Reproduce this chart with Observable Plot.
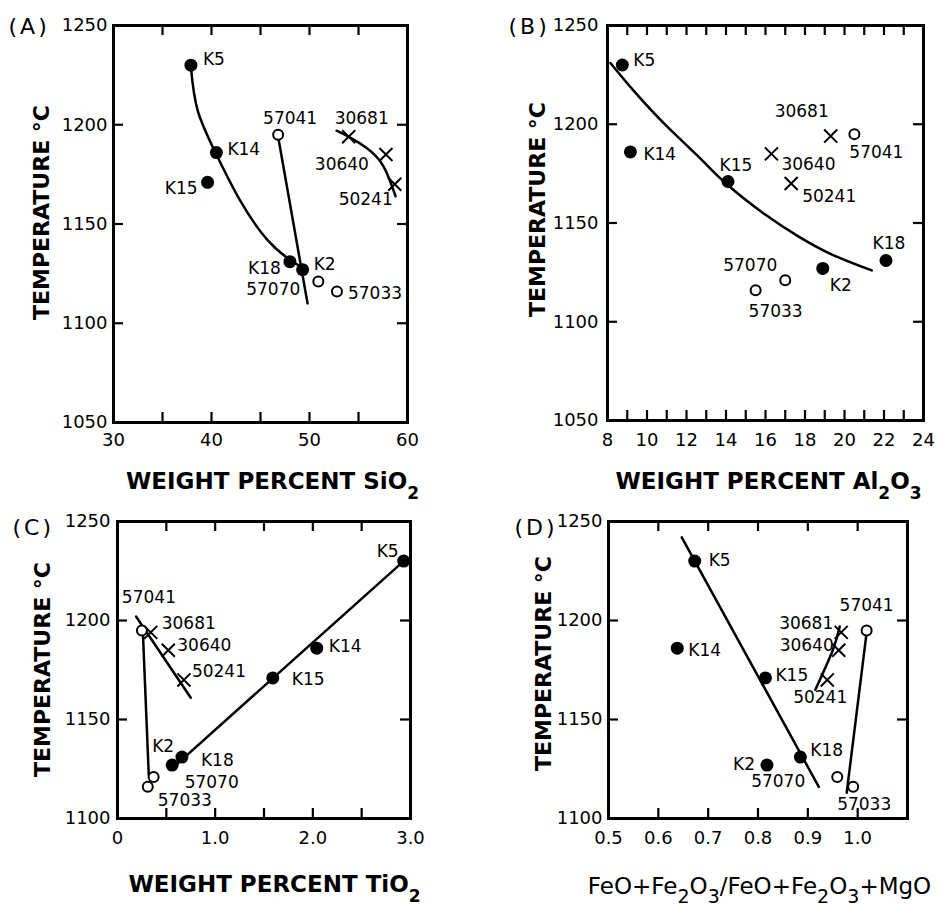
<!DOCTYPE html>
<html><head><meta charset="utf-8">
<script src="https://cdn.jsdelivr.net/npm/d3@7"></script>
<script src="https://cdn.jsdelivr.net/npm/@observablehq/plot@0.6"></script>
<style>
body{margin:0;background:#fff;}
#root{position:relative;width:941px;height:905px;overflow:hidden;background:#fff;}
#root > svg{position:absolute;}
</style></head><body><div id="root"></div>
<script>
// ---- data ----
const samples = ["K5","K14","K15","K18","K2","57041","57070","57033","30681","30640","50241"];
const kinds = ["filled","filled","filled","filled","filled","open","open","open","cross","cross","cross"];
const temperature = [1230, 1186, 1171, 1131, 1127, 1195, 1121, 1116, 1194, 1185, 1170];
const sio2  = [37.9, 40.5, 39.6, 48.0, 49.3, 46.8, 50.9, 52.8, 54.0, 57.8, 58.7];
const al2o3 = [8.75, 9.16, 14.1, 22.1, 18.9, 20.5, 17.0, 15.5, 19.3, 16.3, 17.3];
const tio2  = [2.93, 2.04, 1.59, 0.66, 0.56, 0.25, 0.37, 0.31, 0.34, 0.52, 0.68];
const feRatio = [0.673, 0.638, 0.815, 0.885, 0.818, 1.018, 0.959, 0.991, 0.967, 0.962, 0.939];

// trend lines
const curveA1x = [37.9, 38.6, 40.5, 42.9, 45.7, 48.0, 49.3];
const curveA1y = [1229, 1207, 1185, 1162, 1142, 1132, 1128];
const curveA2x = [46.8, 49.8];
const curveA2y = [1194, 1110];
const curveA3x = [52.76, 53.98, 55.9, 57.55, 58.78];
const curveA3y = [1197, 1194, 1188, 1179, 1164];
const curveBx = [8.15, 9.32, 11.0, 12.67, 14.0, 16.02, 17.7, 19.37, 21.38];
const curveBy = [1231, 1217, 1199, 1183, 1170, 1154, 1143, 1134, 1126];
const lineC1x = [0.62, 2.93];
const lineC1y = [1128, 1230];
const lineC2x = [0.26, 0.32];
const lineC2y = [1194, 1122];
const lineC3x = [0.19, 0.75];
const lineC3y = [1202, 1161];
const lineD1x = [0.647, 0.922];
const lineD1y = [1242, 1116];
const lineD2x = [1.018, 0.978];
const lineD2y = [1194, 1113];
const lineD3x = [0.915, 0.95, 0.964];
const lineD3y = [1165, 1185, 1197];

// ticks
const yLabelsAB = [1050, 1100, 1150, 1200, 1250];
const yTicksAB = [1100, 1150, 1200];
const yLabelsCD = [1100, 1150, 1200, 1250];
const yTicksCD = [1150, 1200];
const xLabelsA = [30, 40, 50, 60];
const xTicksA = [35, 40, 45, 50, 55];
const xLabelsB = [8, 10, 12, 14, 16, 18, 20, 22, 24];
const xTicksB = [9, 10, 11, 12, 13, 14, 15, 16, 17, 18, 19, 20, 21, 22, 23];
const xLabelsC = [0, 1, 2, 3];
const xTicksC = [0.5, 1, 1.5, 2, 2.5];
const xLabelsD = [0.5, 0.6, 0.7, 0.8, 0.9, 1.0];
const xTicksD = [0.6, 0.7, 0.8, 0.9, 1.0];

// label placement (style): [dx, dy, anchor] per sample
const placeA = [[12,-6,"start"],[11,-3,"start"],[-10,6,"end"],[-9,7,"end"],[11,-5,"start"],[12,-16,"middle"],[-18,8,"end"],[11,2,"start"],[13,-18,"middle"],[-17,10,"end"],[-2,15,"end"]];
const placeB = [[11,-4,"start"],[13,3,"start"],[8,-16,"middle"],[3,-17,"middle"],[7,17,"start"],[22,18,"middle"],[-35,-15,"middle"],[20,21,"middle"],[-29,-25,"middle"],[10,11,"start"],[11,13,"start"]];
const placeC = [[-5,-10,"end"],[12,-2,"start"],[19,2,"start"],[19,3,"start"],[-9,-18,"middle"],[7,-33,"middle"],[31,6,"start"],[10,14,"start"],[11,-9,"start"],[9,-5,"start"],[8,-8,"start"]];
const placeD = [[14,-1,"start"],[11,2,"start"],[10,-2,"start"],[10,-7,"start"],[-12,0,"end"],[0,-25,"middle"],[-32,5,"end"],[11,18,"middle"],[-8,-9,"end"],[-5,-5,"end"],[20,18,"end"]];

const FONT = "DejaVu Sans";
const SVGNS = "http://www.w3.org/2000/svg";
const TICK_PX = 10;

function zip(xs, ys) { return xs.map((x, i) => ({x, y: ys[i]})); }

function subscriptify(svg, subSize, drop) {
  svg.querySelectorAll("text").forEach(t => {
    const s = t.textContent;
    if (/^\([A-D]\)$/.test(s)) { t.setAttribute("letter-spacing", "3"); return; }
    if (!/[₂₃]/.test(s)) return;
    while (t.firstChild) t.removeChild(t.firstChild);
    let down = false;
    for (const p of s.split(/([₂₃])/)) {
      if (!p) continue;
      const ts = document.createElementNS(SVGNS, "tspan");
      if (p === "₂" || p === "₃") {
        ts.textContent = p === "₂" ? "2" : "3";
        ts.setAttribute("font-size", subSize);
        if (!down) ts.setAttribute("dy", drop);
        down = true;
      } else {
        ts.textContent = p;
        if (down) ts.setAttribute("dy", -drop);
        down = false;
      }
      t.appendChild(ts);
    }
  });
}

function panel(cfg) {
  const rows = samples.map((s, i) => ({name: s, kind: kinds[i], x: cfg.xValues[i], y: temperature[i]}));
  const mL = cfg.mL, mT = cfg.mT;
  const [x0, x1] = cfg.xDomain, [y0, y1] = cfg.yDomain;
  // tick length of 10 px, expressed in data units of each scale
  const kx = TICK_PX * (x1 - x0) / (cfg.width - mL - cfg.mR);
  const ky = TICK_PX * (y1 - y0) / (cfg.height - mT - cfg.mB);
  const marks = [];
  marks.push(Plot.axisX(cfg.xLabels, {anchor: "bottom", tickSize: 0, tickPadding: cfg.xPad, tickFormat: cfg.xFormat, fontSize: 18, label: null}));
  marks.push(Plot.axisY(cfg.yLabels, {anchor: "left", tickSize: 0, tickPadding: cfg.yPad, tickFormat: d => String(d), fontSize: 18, label: null}));
  marks.push(Plot.frame({fill: "none", stroke: "black", strokeWidth: 3}));
  // inward ticks on all four sides
  marks.push(Plot.ruleX(cfg.xTicks, {x: d => d, y1: y0, y2: y0 + ky, stroke: "black", strokeWidth: 2.2}));
  marks.push(Plot.ruleX(cfg.xTicks, {x: d => d, y1: y1 - ky, y2: y1, stroke: "black", strokeWidth: 2.2}));
  marks.push(Plot.ruleY(cfg.yTicks, {y: d => d, x1: x0, x2: x0 + kx, stroke: "black", strokeWidth: 2.2}));
  marks.push(Plot.ruleY(cfg.yTicks, {y: d => d, x1: x1 - kx, x2: x1, stroke: "black", strokeWidth: 2.2}));
  for (const c of cfg.curves) {
    marks.push(Plot.line(zip(c[0], c[1]), {x: "x", y: "y", curve: c[0].length > 2 ? "natural" : "linear", stroke: "black", strokeWidth: 2.5}));
  }
  marks.push(Plot.dot(rows.filter(d => d.kind === "filled"), {x: "x", y: "y", r: 6.5, fill: "black"}));
  marks.push(Plot.dot(rows.filter(d => d.kind === "open"), {x: "x", y: "y", r: 5, fill: "white", stroke: "black", strokeWidth: 2}));
  marks.push(Plot.dot(rows.filter(d => d.kind === "cross"), {x: "x", y: "y", r: 6, symbol: "times", stroke: "black", strokeWidth: 2}));
  rows.forEach((r, i) => {
    const [dx, dy, anchor] = cfg.place[i];
    marks.push(Plot.text([r], {x: "x", y: "y", text: "name", dx, dy, textAnchor: anchor, fontSize: 17}));
  });
  marks.push(Plot.text([cfg.letter], {frameAnchor: "top-left", dx: cfg.letterPos[0] - mL, dy: cfg.letterPos[1] - mT, textAnchor: "start", lineAnchor: "bottom", fontSize: 22}));
  marks.push(Plot.text(["TEMPERATURE °C"], {frameAnchor: "top-left", dx: cfg.yTitlePos[0] - mL, dy: cfg.yTitlePos[1] - mT, rotate: -90, textAnchor: "middle", lineAnchor: "middle", fontSize: 22, fontWeight: "bold"}));
  marks.push(Plot.text([cfg.xTitle], {frameAnchor: "top-left", dx: cfg.xTitlePos[0] - mL, dy: cfg.xTitlePos[1] - mT, textAnchor: "middle", lineAnchor: "bottom", fontSize: cfg.xTitleSize, fontWeight: cfg.xTitleWeight || "normal"}));

  const svg = Plot.plot({
    width: cfg.width, height: cfg.height,
    marginLeft: mL, marginRight: cfg.mR, marginTop: mT, marginBottom: cfg.mB,
    x: {domain: cfg.xDomain, label: null},
    y: {domain: cfg.yDomain, label: null},
    style: {fontFamily: FONT, fontSize: "18px", color: "black", background: "transparent", overflow: "visible"},
    marks
  });
  subscriptify(svg, cfg.subSize, cfg.subDrop);
  svg.style.left = cfg.left + "px";
  svg.style.top = cfg.top + "px";
  document.getElementById("root").appendChild(svg);
}

panel({left: 0, top: 0, width: 470, height: 500, mL: 113, mR: 63, mT: 25, mB: 78,
  xValues: sio2, xDomain: [30, 60], yDomain: [1050, 1250],
  xTicks: xTicksA, xLabels: xLabelsA, xFormat: d => String(d), xPad: 11,
  yTicks: yTicksAB, yLabels: yLabelsAB, yPad: 6,
  curves: [[curveA1x, curveA1y], [curveA2x, curveA2y], [curveA3x, curveA3y]],
  place: placeA, letter: "(A)", letterPos: [8, 33], yTitlePos: [41, 212],
  xTitle: "WEIGHT PERCENT SiO₂", xTitlePos: [272, 488], xTitleSize: 23, xTitleWeight: "bold", subSize: 17, subDrop: 10});

panel({left: 470, top: 0, width: 471, height: 500, mL: 137, mR: 18, mT: 25, mB: 80,
  xValues: al2o3, xDomain: [8, 24], yDomain: [1050, 1250],
  xTicks: xTicksB, xLabels: xLabelsB, xFormat: d => String(d), xPad: 13,
  yTicks: yTicksAB, yLabels: yLabelsAB, yPad: 9,
  curves: [[curveBx, curveBy]],
  place: placeB, letter: "(B)", letterPos: [38, 33], yTitlePos: [67, 209],
  xTitle: "WEIGHT PERCENT Al₂O₃", xTitlePos: [298, 488], xTitleSize: 23, xTitleWeight: "bold", subSize: 17, subDrop: 10});

panel({left: 0, top: 500, width: 470, height: 405, mL: 117, mR: 60, mT: 21, mB: 87,
  xValues: tio2, xDomain: [0, 3], yDomain: [1100, 1250],
  xTicks: xTicksC, xLabels: xLabelsC, xFormat: d => d === 0 ? "0" : d.toFixed(1), xPad: 13,
  yTicks: yTicksCD, yLabels: yLabelsCD, yPad: 7,
  curves: [[lineC1x, lineC1y], [lineC2x, lineC2y], [lineC3x, lineC3y]],
  place: placeC, letter: "(C)", letterPos: [12, 34], yTitlePos: [42, 169],
  xTitle: "WEIGHT PERCENT TiO₂", xTitlePos: [274, 391], xTitleSize: 23, xTitleWeight: "bold", subSize: 17, subDrop: 10});

panel({left: 470, top: 500, width: 471, height: 405, mL: 138, mR: 34, mT: 21, mB: 87,
  xValues: feRatio, xDomain: [0.5, 1.1], yDomain: [1100, 1250],
  xTicks: xTicksD, xLabels: xLabelsD, xFormat: d => d.toFixed(1), xPad: 13,
  yTicks: yTicksCD, yLabels: yLabelsCD, yPad: 6,
  curves: [[lineD1x, lineD1y], [lineD2x, lineD2y], [lineD3x, lineD3y]],
  place: placeD, letter: "(D)", letterPos: [44, 34], yTitlePos: [73, 163],
  xTitle: "FeO+Fe₂O₃/FeO+Fe₂O₃+MgO", xTitlePos: [289, 393], xTitleSize: 23, subSize: 19, subDrop: 9});
</script></body></html>
